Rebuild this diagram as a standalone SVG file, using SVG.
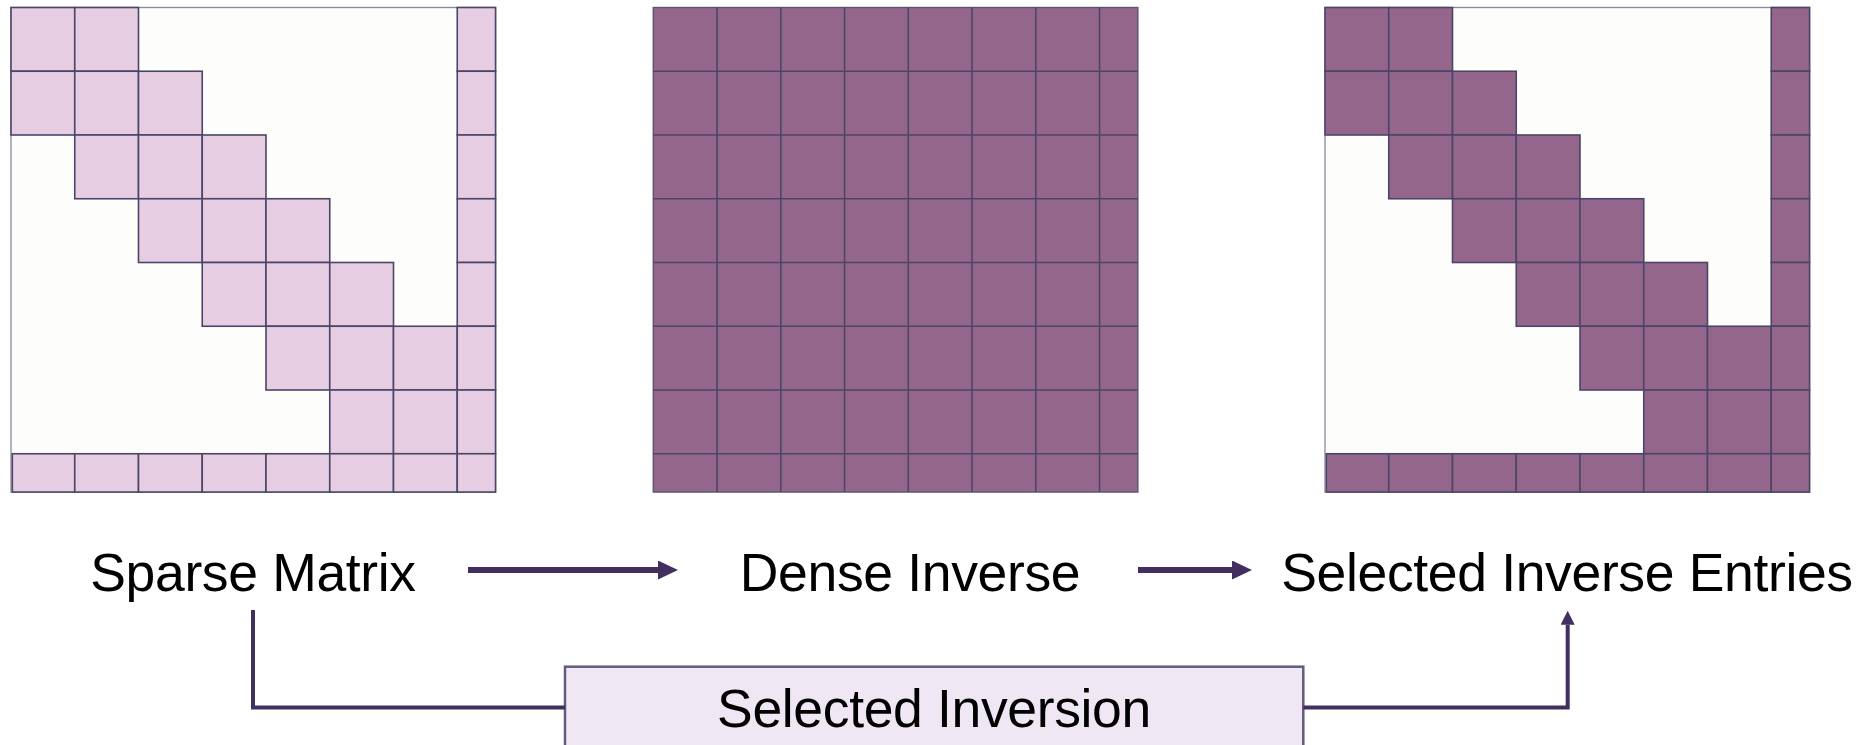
<svg xmlns="http://www.w3.org/2000/svg" xmlns:xlink="http://www.w3.org/1999/xlink" width="1865" height="745" viewBox="0 0 1865 745">
  <style>
    .frame { fill: #fdfdfb; stroke: #8a87a1; stroke-width: 1.3; }
    .cells rect { stroke: #4a4668; stroke-width: 1.6; }
    .light { fill: #e6cde2; }
    .dark { fill: #95668b; }
    .grid { fill: none; stroke: #4a4668; stroke-width: 1.6; }
    .label { font-family: "Liberation Sans", Arial, Helvetica, sans-serif; font-size: 53.5px; letter-spacing: -0.35px; fill: #000; text-anchor: middle; }
    .wire { fill: none; stroke: #412f60; }
    .box { fill: #efe7f4; stroke: #635c7d; stroke-width: 2.5; }
  </style>
  <defs>
    <!-- banded sparsity pattern: 8x8 blocks, last row/column narrower -->
    <g id="band" class="cells">
      <rect x="0" y="0" width="63.75" height="63.75"/>
      <rect x="63.75" y="0" width="63.75" height="63.75"/>
      <rect x="446.25" y="0" width="38.3" height="63.75"/>

      <rect x="0" y="63.75" width="63.75" height="63.75"/>
      <rect x="63.75" y="63.75" width="63.75" height="63.75"/>
      <rect x="127.5" y="63.75" width="63.75" height="63.75"/>
      <rect x="446.25" y="63.75" width="38.3" height="63.75"/>

      <rect x="63.75" y="127.5" width="63.75" height="63.75"/>
      <rect x="127.5" y="127.5" width="63.75" height="63.75"/>
      <rect x="191.25" y="127.5" width="63.75" height="63.75"/>
      <rect x="446.25" y="127.5" width="38.3" height="63.75"/>

      <rect x="127.5" y="191.25" width="63.75" height="63.75"/>
      <rect x="191.25" y="191.25" width="63.75" height="63.75"/>
      <rect x="255" y="191.25" width="63.75" height="63.75"/>
      <rect x="446.25" y="191.25" width="38.3" height="63.75"/>

      <rect x="191.25" y="255" width="63.75" height="63.75"/>
      <rect x="255" y="255" width="63.75" height="63.75"/>
      <rect x="318.75" y="255" width="63.75" height="63.75"/>
      <rect x="446.25" y="255" width="38.3" height="63.75"/>

      <rect x="255" y="318.75" width="63.75" height="63.75"/>
      <rect x="318.75" y="318.75" width="63.75" height="63.75"/>
      <rect x="382.5" y="318.75" width="63.75" height="63.75"/>
      <rect x="446.25" y="318.75" width="38.3" height="63.75"/>

      <rect x="318.75" y="382.5" width="63.75" height="63.75"/>
      <rect x="382.5" y="382.5" width="63.75" height="63.75"/>
      <rect x="446.25" y="382.5" width="38.3" height="63.75"/>

      <rect x="1.3" y="446.25" width="62.45" height="38.3"/>
      <rect x="63.75" y="446.25" width="63.75" height="38.3"/>
      <rect x="127.5" y="446.25" width="63.75" height="38.3"/>
      <rect x="191.25" y="446.25" width="63.75" height="38.3"/>
      <rect x="255" y="446.25" width="63.75" height="38.3"/>
      <rect x="318.75" y="446.25" width="63.75" height="38.3"/>
      <rect x="382.5" y="446.25" width="63.75" height="38.3"/>
      <rect x="446.25" y="446.25" width="38.3" height="38.3"/>
    </g>
    <marker id="head" markerUnits="userSpaceOnUse" markerWidth="20" markerHeight="19" refX="0" refY="9.5" orient="auto" viewBox="0 0 20 19">
      <path d="M0,0 L20,9.5 L0,19 Z" fill="#412f60"/>
    </marker>
    <marker id="headSmall" markerUnits="userSpaceOnUse" markerWidth="14" markerHeight="14" refX="0" refY="7" orient="auto" viewBox="0 0 14 14">
      <path d="M0,0 L14,7 L0,14 Z" fill="#412f60"/>
    </marker>
  </defs>

  <rect width="1865" height="745" fill="#ffffff"/>

  <!-- sparse matrix -->
  <g id="sparse-matrix" transform="translate(11,7.5)">
    <rect class="frame" x="0" y="0" width="484.55" height="484.55"/>
    <use xlink:href="#band" class="light"/>
  </g>

  <!-- dense inverse: every block filled -->
  <g id="dense-inverse" transform="translate(653.3,7.5)">
    <rect class="dark" x="0" y="0" width="484.55" height="484.55" stroke="#5a5474" stroke-width="1.4"/>
    <path class="grid" d="M63.75,0V484.55 M127.5,0V484.55 M191.25,0V484.55 M255,0V484.55 M318.75,0V484.55 M382.5,0V484.55 M446.25,0V484.55 M0,63.75H484.55 M0,127.5H484.55 M0,191.25H484.55 M0,255H484.55 M0,318.75H484.55 M0,382.5H484.55 M0,446.25H484.55"/>
  </g>

  <!-- selected inverse entries: same pattern as the sparse matrix -->
  <g id="selected-entries" transform="translate(1325,7.5)">
    <rect class="frame" x="0" y="0" width="484.55" height="484.55"/>
    <use xlink:href="#band" class="dark"/>
  </g>

  <!-- labels -->
  <g id="label-sparse"><text class="label" x="253" y="591">Sparse Matrix</text></g>
  <g id="label-dense"><text class="label" x="910" y="591">Dense Inverse</text></g>
  <g id="label-entries"><text class="label" x="1567" y="591">Selected Inverse Entries</text></g>

  <!-- selected inversion box -->
  <g id="selected-inversion">
    <rect class="box" x="565" y="666.7" width="738.3" height="110"/>
    <text class="label" x="934" y="727.3">Selected Inversion</text>
  </g>

  <!-- connectors -->
  <g id="connectors">
    <path class="wire" stroke-width="6" d="M468,570 H658" marker-end="url(#head)"/>
    <path class="wire" stroke-width="6" d="M1138,570 H1232" marker-end="url(#head)"/>
    <path class="wire" stroke-width="4" d="M253,610 V707.5 H565"/>
    <path class="wire" stroke-width="4" d="M1303.3,707.5 H1567.7 V624.7" marker-end="url(#headSmall)"/>
  </g>
</svg>
